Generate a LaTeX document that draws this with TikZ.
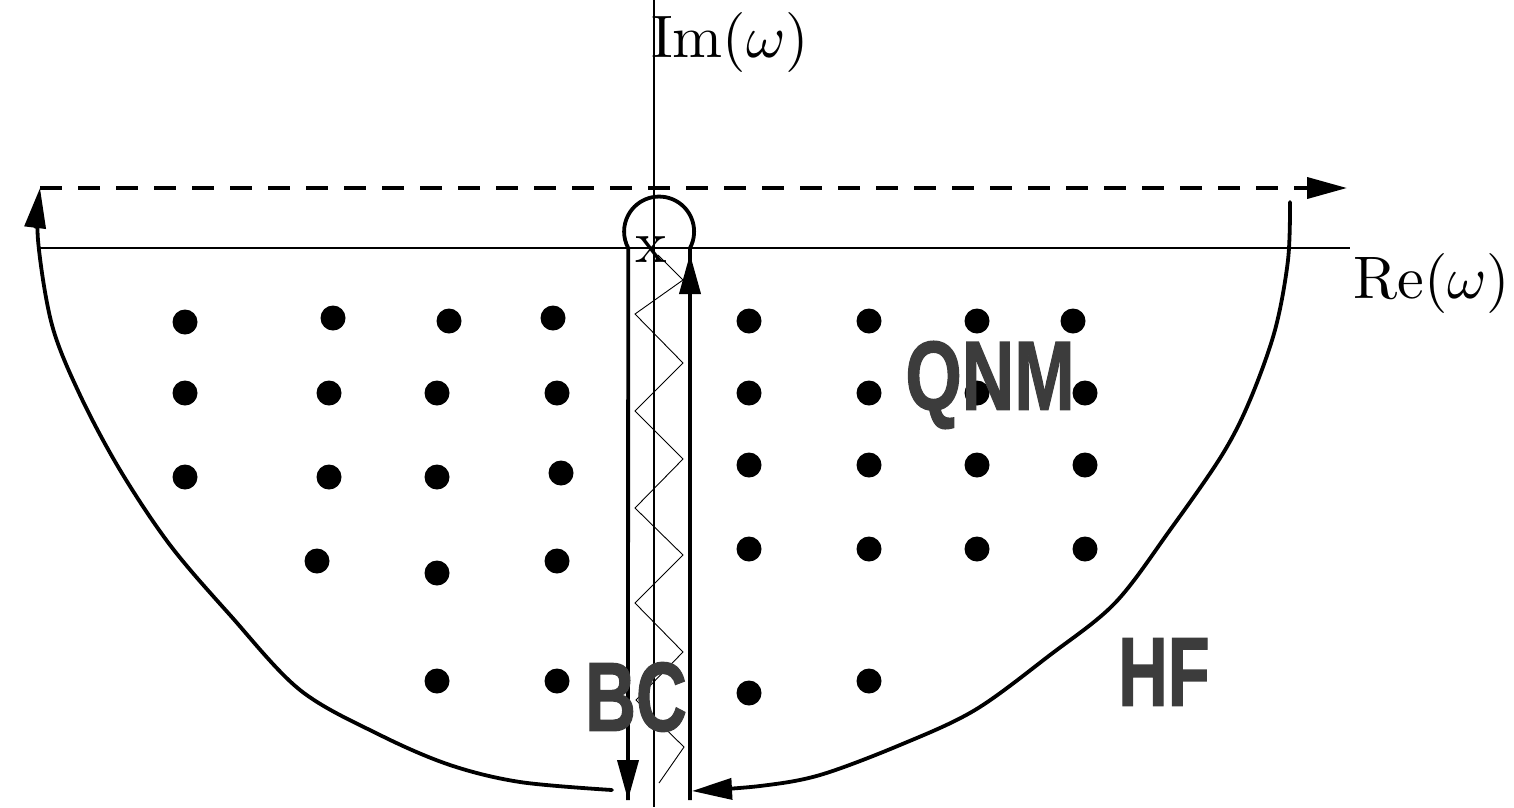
\documentclass[tikz,border=0pt]{standalone}
\usepackage{fontspec}
\newfontfamily\labfont{Liberation Sans}[BoldFeatures={FakeBold=1.4}]
\usetikzlibrary{arrows.meta}
\definecolor{labgray}{HTML}{3C3C3C}
\begin{document}
\begin{tikzpicture}[x=1pt,y=-1pt,
  contour/.style={line width=3.8pt, line join=round, line cap=round},
  axisline/.style={line width=1.1pt},
  dot/.style={circle, fill=black, inner sep=0pt, minimum size=25pt},
  bigtip/.style={-{Triangle[length=40pt,width=21pt]}},
  zig/.style={line width=0.9pt},
  axlabel/.style={inner sep=0pt},
  biglab/.style={inner sep=0pt, text=labgray, font=\labfont\bfseries\fontsize{98}{98}\selectfont}]
\useasboundingbox (0,0) rectangle (1514,807);
% axes
\draw[axisline] (40,248) -- (1350,248);
\draw[axisline] (654,0) -- (654,807);
\node[axlabel, anchor=base west] (im) at (651,57) {\scalebox{6}{$\mathrm{Im}(\omega)$}};
\node[axlabel, anchor=base west] (re) at (1353,298) {\scalebox{6}{$\mathrm{Re}(\omega)$}};
\node[axlabel] (x) at (651,250) {\scalebox{6}{x}};
% dashed top line
\draw[contour, dash pattern=on 22pt off 16pt, line cap=butt, bigtip] (40,188) -- (1347,188);
% right arc
\draw[contour, bigtip] plot[smooth, tension=0.55] coordinates {(1290,202) (1288,260) (1275,330) (1250,400) (1222,455) (1170,530) (1115,603) (1050,655) (975,710) (900,745) (820,775) (760,786) (692,791)};
% left arc
\draw[contour, bigtip] plot[smooth, tension=0.55] coordinates {(612,790) (520,782) (450,765) (380,735) (300,690) (230,615) (170,545) (120,470) (80,395) (52,325) (38,240) (40,188)};
% keyhole around branch cut
\draw[contour, line cap=butt] (690,800) -- (690,248) arc[start angle=28, end angle=-208, radius=35] -- (628,800);
\draw[contour, line cap=butt, bigtip] (690,300) -- (690,254);
\draw[contour, line cap=butt, bigtip] (628,760) -- (628,800);
% branch cut zigzag
\draw[zig] (658,255) -- (683,280) -- (635,314) -- (683,363) -- (635,411) -- (683,459) -- (635,508) -- (683,555) -- (635,603) -- (683,652) -- (636,700) -- (684,747) -- (659,783);
% QNM dots
\foreach \p [count=\i] in {(185,322),(333,318),(449,321),(553,318),(749,321),(869,321),(977,321),(1073,321),
  (185,393),(329,393),(437,393),(557,393),(749,393),(869,393),(977,393),(1085,393),
  (185,477),(329,477),(437,477),(561,473),(749,465),(869,465),(977,465),(1085,465),
  (317,561),(437,573),(557,561),(749,549),(869,549),(977,549),(1085,549),
  (437,681),(557,681),(749,693),(869,681)}
  \node[dot] (d\i) at \p {};
% labels
\node[biglab] (qnm) at (990,385) {\scalebox{0.74}[1]{QNM}};
\node[biglab] (bc) at (636,697) {\scalebox{0.72}[1]{BC}};
\node[biglab] (hf) at (1164,672) {\scalebox{0.70}[1]{HF}};
\end{tikzpicture}
\end{document}
